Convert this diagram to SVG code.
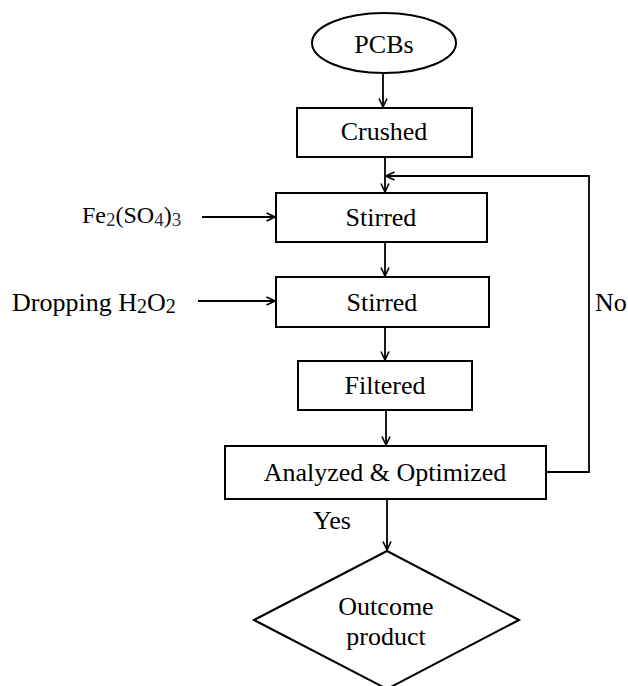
<svg xmlns="http://www.w3.org/2000/svg" width="628" height="686" viewBox="0 0 628 686">
<defs>
<marker id="arr" viewBox="0 0 10 10" refX="9.5" refY="5" markerWidth="10" markerHeight="10" markerUnits="userSpaceOnUse" orient="auto">
<path d="M1,1 L9.5,5 L1,9" fill="none" stroke="#000" stroke-width="1.6"/>
</marker>
<style>
.box{fill:#fff;stroke:#000;stroke-width:2}
.t{font-family:"Liberation Serif","Times New Roman",serif;font-size:26px;fill:#000;text-anchor:middle}
.l{font-family:"Liberation Serif","Times New Roman",serif;font-size:26px;fill:#000}
.sub{font-size:19px}
.c{fill:none;stroke:#000;stroke-width:1.8}
.ca{fill:none;stroke:#000;stroke-width:1.8;marker-end:url(#arr)}
</style>
</defs>
<rect width="628" height="686" fill="#fff"/>
<g id="connectors">
<line class="ca" x1="383" y1="73" x2="383" y2="107"/>
<line class="ca" x1="385" y1="157" x2="385" y2="192"/>
<polyline class="ca" points="546,472 589,472 589,176 386,176"/>
<line class="ca" x1="385" y1="242" x2="385" y2="276"/>
<line class="ca" x1="385" y1="327" x2="385" y2="360"/>
<line class="ca" x1="386" y1="410" x2="386" y2="445"/>
<line class="ca" x1="387" y1="499" x2="387" y2="550"/>
<line class="ca" x1="202" y1="217" x2="275" y2="217"/>
<line class="ca" x1="198" y1="301" x2="275" y2="301"/>
<text class="l" x="595" y="311">No</text>
<text class="l" x="313" y="529">Yes</text>
</g>
<g id="pcbs">
<ellipse class="box" cx="384" cy="43" rx="72" ry="30"/>
<text class="t" x="384" y="53">PCBs</text>
</g>
<g id="crushed">
<rect class="box" x="297" y="108" width="175" height="49"/>
<text class="t" x="384" y="140">Crushed</text>
</g>
<g id="fe">
<text class="l" x="82" y="223" style="font-size:24px">Fe<tspan class="sub" fill="#1f3050" dy="3">2</tspan><tspan dy="-3">(SO</tspan><tspan class="sub" fill="#1f3050" dy="3">4</tspan><tspan dy="-3">)</tspan><tspan class="sub" fill="#1f3050" dy="3">3</tspan></text>
</g>
<g id="stirred1">
<rect class="box" x="276" y="193" width="211" height="49"/>
<text class="t" x="381" y="226">Stirred</text>
</g>
<g id="h2o2">
<text class="l" x="12" y="311">Dropping H<tspan class="sub" style="font-size:20px" dy="2">2</tspan><tspan dy="-2">O</tspan><tspan class="sub" style="font-size:20px" dy="2">2</tspan></text>
</g>
<g id="stirred2">
<rect class="box" x="276" y="277" width="213" height="50"/>
<text class="t" x="382" y="311">Stirred</text>
</g>
<g id="filtered">
<rect class="box" x="298" y="361" width="174" height="49"/>
<text class="t" x="385" y="394">Filtered</text>
</g>
<g id="analyzed">
<rect class="box" x="225" y="446" width="321" height="53"/>
<text class="t" x="385" y="481">Analyzed &amp; Optimized</text>
</g>
<g id="outcome">
<polygon class="box" points="387,551 519,620 387,689 254,620"/>
<text class="t" x="386" y="615">Outcome</text>
<text class="t" x="386" y="645">product</text>
</g>
</svg>
